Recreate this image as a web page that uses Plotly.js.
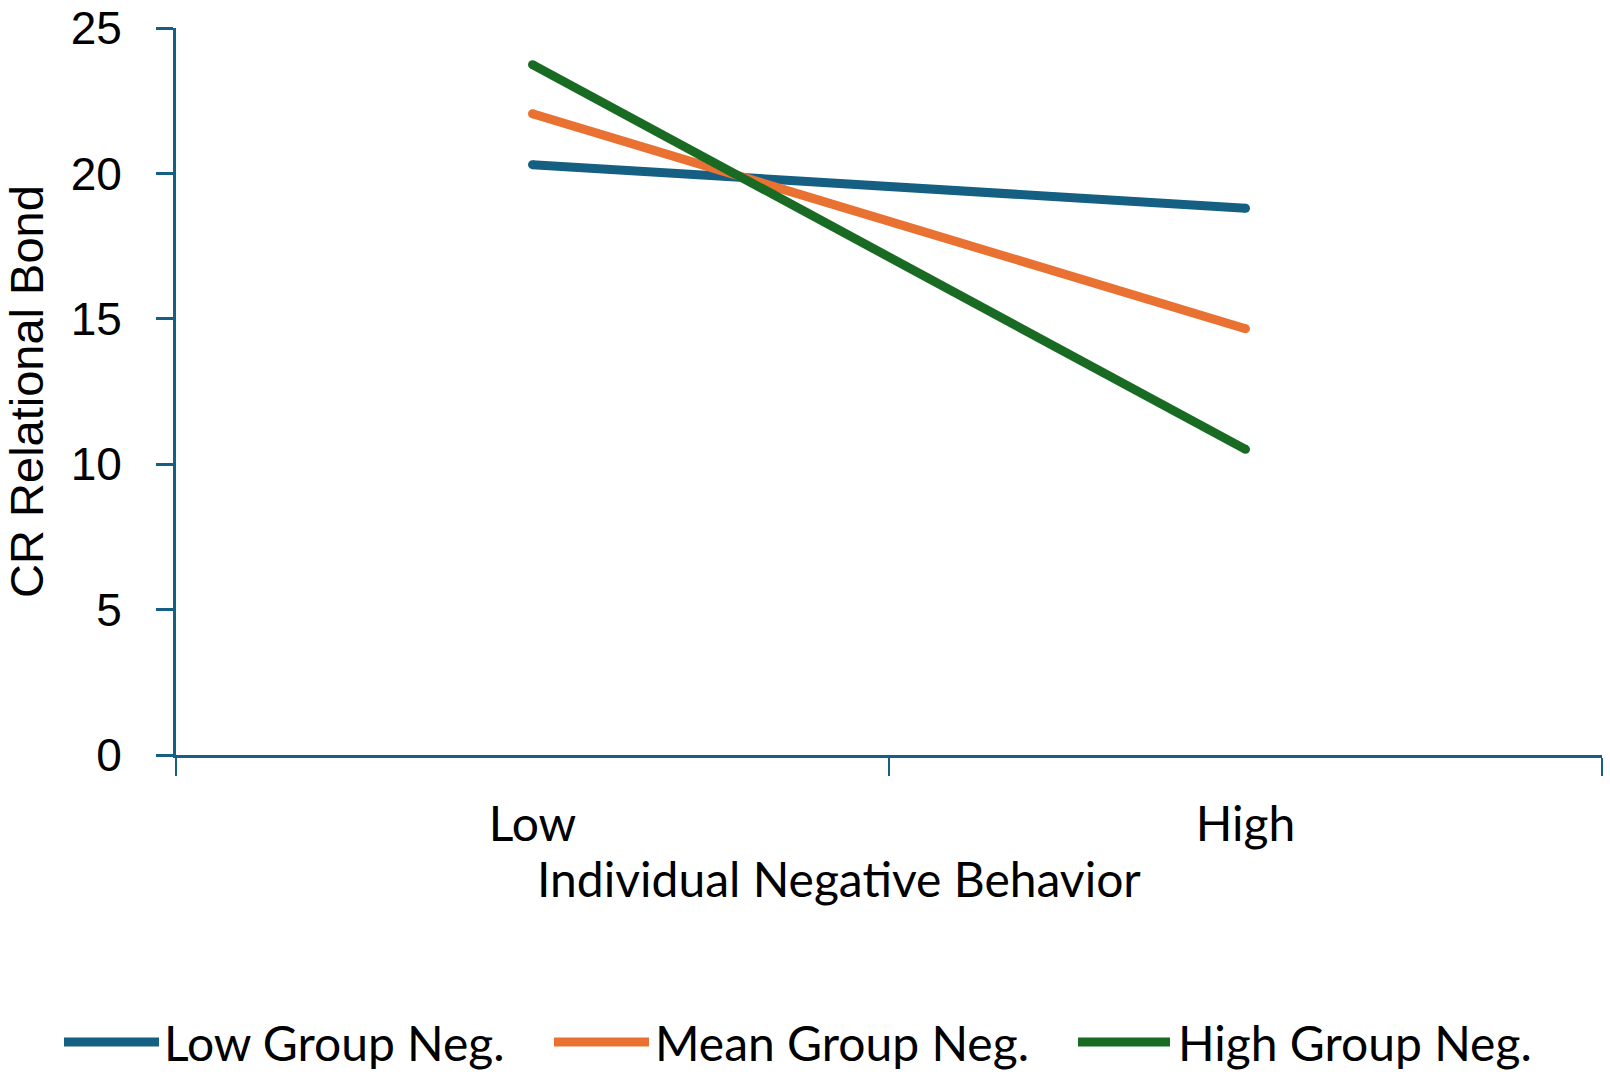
<!DOCTYPE html>
<html>
<head>
<meta charset="utf-8">
<script src="https://cdn.plot.ly/plotly-3.0.1.min.js"></script>
<style>
  html, body { margin: 0; padding: 0; background: #ffffff; }
  #chart { width: 1610px; height: 1074px; }
</style>
</head>
<body>
<div id="chart"></div>
<script>
// Interaction plot: CR relational bond by individual negative behavior,
// one line per level of group negative behavior.
const categories = ["Low", "High"];
const seriesNames = ["Low Group Neg.", "Mean Group Neg.", "High Group Neg."];
const lowGroupNeg = [20.3, 18.8];
const meanGroupNeg = [22.05, 14.66];
const highGroupNeg = [23.74, 10.51];
const yTickValues = [0, 5, 10, 15, 20, 25];

const xTitle = "Individual Negative Behavior";
const yTitle = "CR Relational Bond";

const colors = ["#156082", "#E97132", "#196B24"];
const axisColor = "#156082";
const sansA = "Lato, 'Noto Sans', sans-serif";
const sansB = "'Liberation Sans', Arial, sans-serif";

const W = 1610, H = 1074;
const M = { l: 176, r: 8, t: 28, b: 319 };
const plotW = W - M.l - M.r;
const plotH = H - M.t - M.b;
// helpers to place layout items in paper coordinates from pixel positions
const px = x => (x - M.l) / plotW;
const py = y => (H - M.b - y) / plotH;

const seriesValues = [lowGroupNeg, meanGroupNeg, highGroupNeg];
const traces = seriesValues.map((vals, i) => ({
  type: "scatter",
  mode: "lines+markers",
  x: categories,
  y: vals,
  name: seriesNames[i],
  line: { color: colors[i], width: 9 },
  marker: { color: colors[i], size: 9 },
  showlegend: false,
  hoverinfo: "x+y+name"
}));

// legend drawn as a row of line swatches with labels beneath the plot
const legendLines = [[64, 159], [554, 649], [1078, 1170]];
const legendTextX = [162, 653, 1176];
const legendY = 1042;

const shapes = legendLines.map((seg, i) => ({
  type: "line", xref: "paper", yref: "paper",
  x0: px(seg[0]), x1: px(seg[1]), y0: py(legendY), y1: py(legendY),
  line: { color: colors[i], width: 9 }
}));

const annotations = seriesNames.map((name, i) => ({
  xref: "paper", yref: "paper",
  x: px(legendTextX[i]), y: py(legendY),
  xanchor: "left", yanchor: "middle",
  text: name, showarrow: false,
  font: { family: sansA, size: 48, color: "#000000" }
}));

annotations.push({
  xref: "paper", yref: "paper",
  x: px(839), y: py(878),
  xanchor: "center", yanchor: "middle",
  text: xTitle, showarrow: false,
  font: { family: sansA, size: 48, color: "#000000" }
});

const layout = {
  width: W, height: H,
  margin: M,
  paper_bgcolor: "#ffffff",
  plot_bgcolor: "#ffffff",
  showlegend: false,
  xaxis: {
    type: "category",
    range: [-0.5, 1.5],
    tickson: "boundaries",
    ticks: "outside", ticklen: 18, tickwidth: 2, tickcolor: axisColor,
    showline: true, linecolor: axisColor, linewidth: 3,
    showgrid: false, zeroline: false,
    tickfont: { family: sansA, size: 48, color: "#000000" },
    ticklabelstandoff: 25
  },
  yaxis: {
    range: [0, 25],
    tickvals: yTickValues,
    ticks: "outside", ticklen: 17, tickwidth: 3, tickcolor: axisColor,
    showline: true, linecolor: axisColor, linewidth: 3,
    showgrid: false, zeroline: false,
    ticklabeloverflow: "allow",
    tickfont: { family: sansB, size: 46, color: "#000000" },
    ticklabelstandoff: 25,
    title: { text: yTitle, font: { family: sansB, size: 47, color: "#000000" }, standoff: 14 }
  },
  shapes: shapes,
  annotations: annotations
};

Plotly.newPlot("chart", traces, layout, { displayModeBar: false, staticPlot: false });
</script>
</body>
</html>
